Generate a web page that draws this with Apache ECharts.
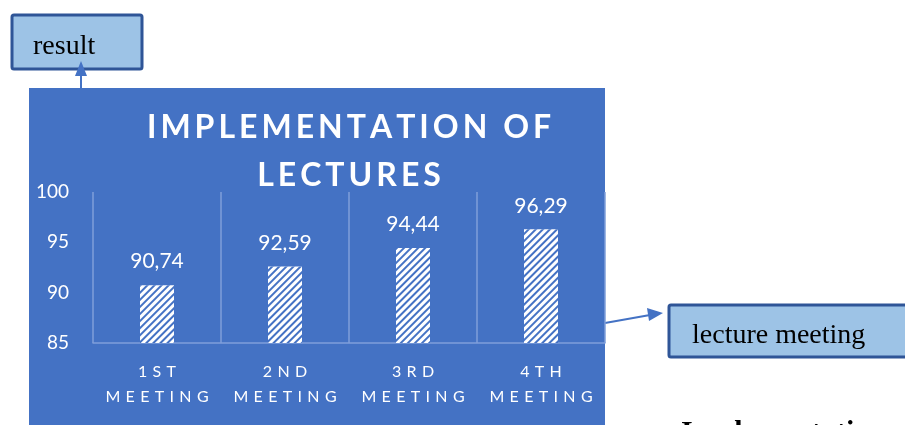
<!DOCTYPE html>
<html><head><meta charset="utf-8">
<style>html,body{margin:0;padding:0;background:#fff;}#c{width:905px;height:425px;}</style>
<script src="https://cdn.jsdelivr.net/npm/echarts@6/dist/echarts.min.js"></script>
</head><body><div id="c"></div>
<script>
const categories = ['1st meeting', '2nd meeting', '3rd meeting', '4th meeting'];
const values = [90.74, 92.59, 94.44, 96.29];
const yTicks = [85, 90, 95, 100];
const titleLines = ['IMPLEMENTATION OF', 'LECTURES'];

function spaced(s, sp) { return s.toUpperCase().split('').join(sp); }

const chart = echarts.init(document.getElementById('c'));
const blue = '#4472C4';
const font = 'Lato, "Open Sans", sans-serif';
const serif = '"Liberation Serif", "DejaVu Serif", serif';
chart.setOption({
  backgroundColor: '#fff',
  animation: false,
  graphic: [
    { type: 'rect', z: -10, shape: { x: 29, y: 88, width: 576, height: 345 }, style: { fill: blue } },
    { type: 'text', x: 349, y: 104, z: 10, style: {
        text: titleLines.map(t => spaced(t, '\u2009')).join('\n'),
        fill: '#fff', font: 'bold 32px ' + font, textAlign: 'center', lineHeight: 48 } },
    // result box
    { type: 'rect', shape: { x: 12, y: 15, width: 130, height: 54, r: 2 }, style: { fill: '#9DC3E6', stroke: '#2F5597', lineWidth: 3 } },
    { type: 'text', x: 33, y: 33, style: { text: 'result', fill: '#000', font: '28px ' + serif } },
    { type: 'line', shape: { x1: 81, y1: 88, x2: 81, y2: 74 }, style: { stroke: blue, lineWidth: 2 } },
    { type: 'polygon', shape: { points: [[81, 61], [75, 76], [87, 76]] }, style: { fill: blue } },
    // lecture meeting box
    { type: 'rect', shape: { x: 669, y: 305, width: 260, height: 52, r: 2 }, style: { fill: '#9DC3E6', stroke: '#2F5597', lineWidth: 3 } },
    { type: 'text', x: 692, y: 322, style: { text: 'lecture meeting', fill: '#000', font: '28px ' + serif } },
    { type: 'line', shape: { x1: 605, y1: 323, x2: 650, y2: 315 }, style: { stroke: blue, lineWidth: 2 } },
    { type: 'polygon', shape: { points: [[663, 313], [647, 308], [649, 321]] }, style: { fill: blue } },
    { type: 'text', x: 681, y: 418, style: { text: 'Implementation', fill: '#000', font: 'bold 30px ' + serif } }
  ],
  grid: { left: 93, right: 300, top: 192, bottom: 82 },
  xAxis: {
    type: 'category', data: categories,
    axisLine: { lineStyle: { color: '#7F9FDA', width: 1.5 } },
    axisTick: { show: false },
    splitLine: { show: true, lineStyle: { color: '#7F9FDA', width: 1.5 } },
    axisLabel: {
      color: '#fff', fontFamily: font, fontSize: 16, lineHeight: 25, margin: 16, interval: 0,
      formatter: v => { const p = v.split(' '); return spaced(p[0], '\u2004') + '\n' + spaced(p[1], '\u2004'); }
    }
  },
  yAxis: {
    type: 'value', min: yTicks[0], max: yTicks[yTicks.length - 1], interval: 5,
    axisLine: { show: false }, axisTick: { show: false }, splitLine: { show: false },
    axisLabel: { color: '#fff', fontFamily: font, fontSize: 19, margin: 24 }
  },
  series: [{
    type: 'bar', data: values, barWidth: 34,
    itemStyle: {
      color: '#fff',
      decal: { symbol: 'rect', dashArrayX: [1, 0], dashArrayY: [1.5, 2.5], rotation: -Math.PI / 4, color: blue, symbolSize: 1 }
    },
    label: { show: true, position: 'top', distance: 13, color: '#fff', fontFamily: font, fontSize: 21,
      formatter: p => p.value.toFixed(2).replace('.', ',') }
  }]
});
</script></body></html>
